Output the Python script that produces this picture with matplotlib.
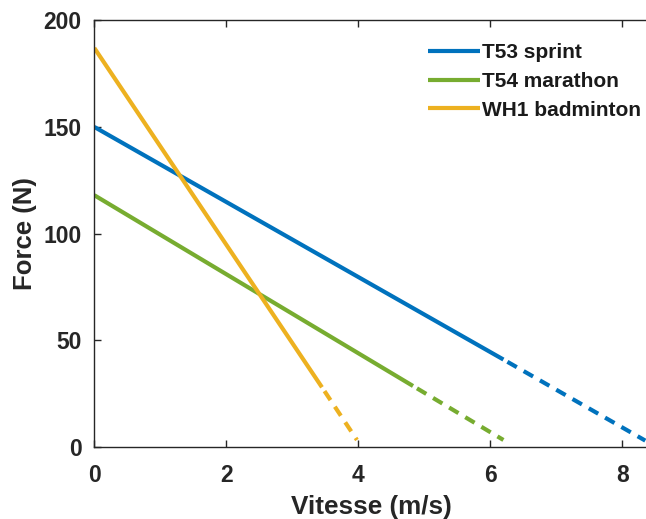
import matplotlib
matplotlib.use('Agg')
import matplotlib.pyplot as plt

# ---- Data ----
labels = ['T53 sprint', 'T54 marathon', 'WH1 badminton']
colors = ['#0072BD', '#77AC30', '#EDB120']

# measured part (solid)
solid_v = [[0.0, 6.2], [0.0, 4.83], [0.0, 3.45]]
solid_F = [[150.0, 41.0], [118.0, 28.6], [187.0, 28.0]]
# extrapolated part (dashed)
dash_v = [[6.2, 8.35], [4.83, 6.2], [3.45, 3.98]]
dash_F = [[41.0, 3.0], [28.6, 3.3], [28.0, 3.3]]

xticks = [0, 2, 4, 6, 8]
yticks = [0, 50, 100, 150, 200]

plt.rcParams.update({
    'font.family': ['Liberation Sans', 'DejaVu Sans'],
    'font.weight': 'bold',
    'axes.labelweight': 'bold',
})

fig = plt.figure(figsize=(6.46, 5.19), dpi=100)
ax = fig.add_axes([0.146, 0.1387, 1.004 - 0.146, 0.961 - 0.1387])

for lab, c, sv, sf, dv, df in zip(labels, colors, solid_v, solid_F, dash_v, dash_F):
    ax.plot(sv, sf, color=c, lw=3, solid_capstyle='butt', label=lab)
    # start the dashed part with a short gap, as in the original
    ax.plot(dv, df, color=c, lw=3, linestyle=(3.4, (2.6, 1.9)), dash_capstyle='butt')

ax.set_xlim(0, 8.4)
ax.set_ylim(0, 200)
ax.set_xticks(xticks)
ax.set_yticks(yticks)

AX_COL = '#262626'
for s in ax.spines.values():
    s.set_color(AX_COL)
    s.set_linewidth(1.0)
ax.spines['right'].set_visible(False)
ax.tick_params(direction='in', length=5, width=1, color=AX_COL,
               labelcolor=AX_COL, labelsize=16.5, top=True, right=False)
ax.tick_params(axis='x', pad=12)
ax.tick_params(axis='y', pad=9)

ax.set_xlabel('Vitesse (m/s)', fontsize=18.8, color=AX_COL, labelpad=6)
ax.set_ylabel('Force (N)', fontsize=18.5, color=AX_COL, labelpad=4.5)

leg = ax.legend(loc='upper right', bbox_to_anchor=(1.009, 0.975), frameon=False,
                fontsize=15, handlelength=2.5, handletextpad=0.1,
                labelspacing=0.46, borderaxespad=0.2)
for t in leg.get_texts():
    t.set_color('#1a1a1a')

fig.savefig('out.png', dpi=100, facecolor='white')
